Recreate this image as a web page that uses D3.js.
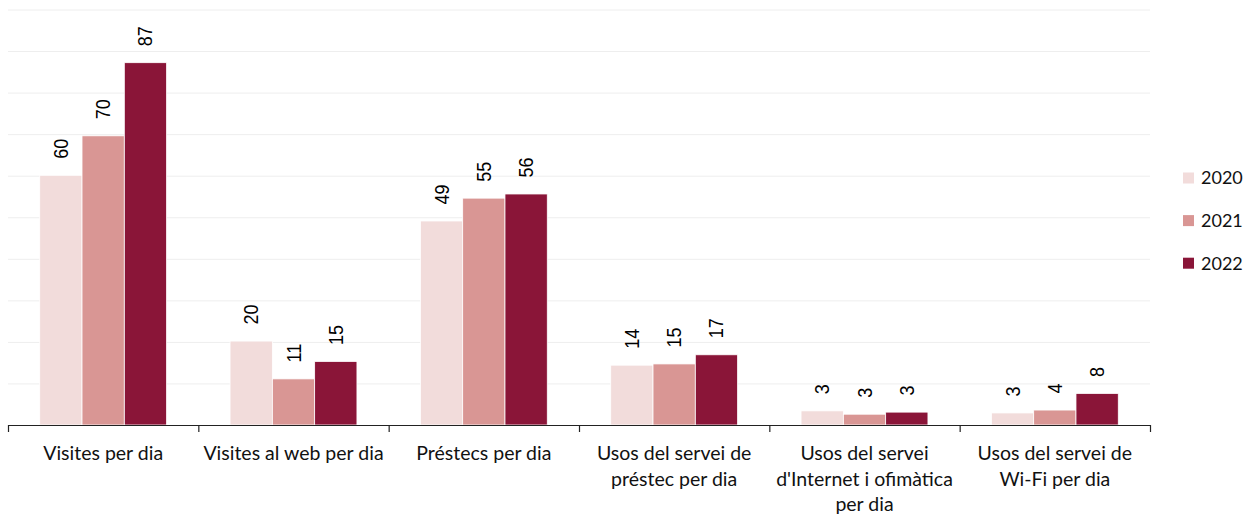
<!DOCTYPE html>
<html>
<head>
<meta charset="utf-8">
<script src="https://cdn.jsdelivr.net/npm/d3@7"></script>
<style>
  html, body { margin: 0; padding: 0; background: #fff; }
  svg { display: block; }
</style>
</head>
<body>
<svg id="chart" width="1258" height="517"></svg>
<script>
const categories = [
  "Visites per dia",
  "Visites al web per dia",
  "Préstecs per dia",
  "Usos del servei de\npréstec per dia",
  "Usos del servei\nd'Internet i ofimàtica\nper dia",
  "Usos del servei de\nWi-Fi per dia"
];
const years = ["2020", "2021", "2022"];
const values2020 = [60.1, 20.2, 49.1, 14.4, 3.4, 2.9];
const values2021 = [69.6, 11.1, 54.6, 14.7, 2.6, 3.6];
const values2022 = [87.2, 15.3, 55.6, 16.9, 3.1, 7.6];
const labels2020 = ["60", "20", "49", "14", "3", "3"];
const labels2021 = ["70", "11", "55", "15", "3", "4"];
const labels2022 = ["87", "15", "56", "17", "3", "8"];
const gridTicks = [10, 20, 30, 40, 50, 60, 70, 80, 90, 100];
const colors = ["#F2DCDB", "#D99694", "#8A1538"];

const seriesValues = [values2020, values2021, values2022];
const seriesLabels = [labels2020, labels2021, labels2022];

const svg = d3.select("#chart");
const plotLeft = 8, plotRight = 1150, plotBottom = 425, plotTop = 9.5;

const y = d3.scaleLinear().domain([0, 100]).range([plotBottom, plotTop]);
const x0 = d3.scaleBand().domain(categories).range([plotLeft, plotRight]).padding(0);
const x1 = d3.scaleBand().domain(years).range([0, x0.bandwidth()]).paddingInner(0).paddingOuter(0.75);
const color = d3.scaleOrdinal().domain(years).range(colors);

// gridlines
const grid = svg.append("g")
  .attr("transform", `translate(${plotLeft},0)`)
  .call(d3.axisLeft(y).tickValues(gridTicks).tickSize(-(plotRight - plotLeft)).tickFormat(""));
grid.select(".domain").remove();
grid.selectAll(".tick line").attr("stroke", "#EEEEEE").attr("stroke-width", 1);

// bars
const rows = categories.map((c, i) => ({
  cat: c,
  items: years.map((yr, j) => ({ year: yr, value: seriesValues[j][i], label: seriesLabels[j][i] }))
}));

const groups = svg.append("g").selectAll("g")
  .data(rows).join("g")
  .attr("transform", d => `translate(${x0(d.cat)},0)`);

groups.selectAll("rect")
  .data(d => d.items).join("rect")
  .attr("x", d => x1(d.year))
  .attr("width", x1.bandwidth())
  .attr("y", d => y(d.value))
  .attr("height", d => y(0) - y(d.value))
  .attr("fill", d => color(d.year))
  .attr("stroke", "#ffffff")
  .attr("stroke-width", 0.8);

groups.selectAll("text")
  .data(d => d.items).join("text")
  .attr("transform", d => `translate(${x1(d.year) + x1.bandwidth() / 2},${y(d.value) - 16.5}) rotate(-90) scale(0.9,1)`)
  .attr("dy", "0.35em")
  .attr("text-anchor", "start")
  .attr("font-family", "'Liberation Sans', Arial, sans-serif")
  .attr("font-size", 20)
  .attr("fill", "#000")
  .text(d => d.label);

// x axis with ticks at category boundaries
const xb = d3.scaleLinear().domain([0, categories.length]).range([plotLeft, plotRight]);
const axis = svg.append("g")
  .attr("transform", `translate(0,${plotBottom})`)
  .call(d3.axisBottom(xb).ticks(categories.length).tickSize(7).tickSizeOuter(0).tickFormat(""));
axis.select(".domain").attr("stroke", "#222").attr("stroke-width", 1.2);
axis.selectAll(".tick line").attr("stroke", "#222").attr("stroke-width", 1.2);

// category labels
const catLabels = svg.append("g").selectAll("text")
  .data(categories).join("text")
  .attr("x", d => x0(d) + x0.bandwidth() / 2)
  .attr("y", 460)
  .attr("text-anchor", "middle")
  .attr("font-family", "Lato, 'Open Sans', sans-serif")
  .attr("font-size", 19.5)
  .attr("fill", "#111");
catLabels.each(function(d) {
  const t = d3.select(this);
  d.split("\n").forEach((line, i) => {
    t.append("tspan")
      .attr("x", x0(d) + x0.bandwidth() / 2)
      .attr("dy", i === 0 ? 0 : 25.5)
      .text(line);
  });
});

// legend
const legend = svg.append("g").selectAll("g")
  .data(years).join("g")
  .attr("transform", (d, i) => `translate(1183,${178 + i * 42.6})`);
legend.append("rect")
  .attr("x", 0).attr("y", -5.5)
  .attr("width", 11).attr("height", 11)
  .attr("fill", d => color(d));
legend.append("text")
  .attr("x", 18).attr("y", 0)
  .attr("dy", "0.36em")
  .attr("font-family", "Lato, 'Open Sans', sans-serif")
  .attr("font-size", 18)
  .attr("fill", "#111")
  .text(d => d);
</script>
</body>
</html>
